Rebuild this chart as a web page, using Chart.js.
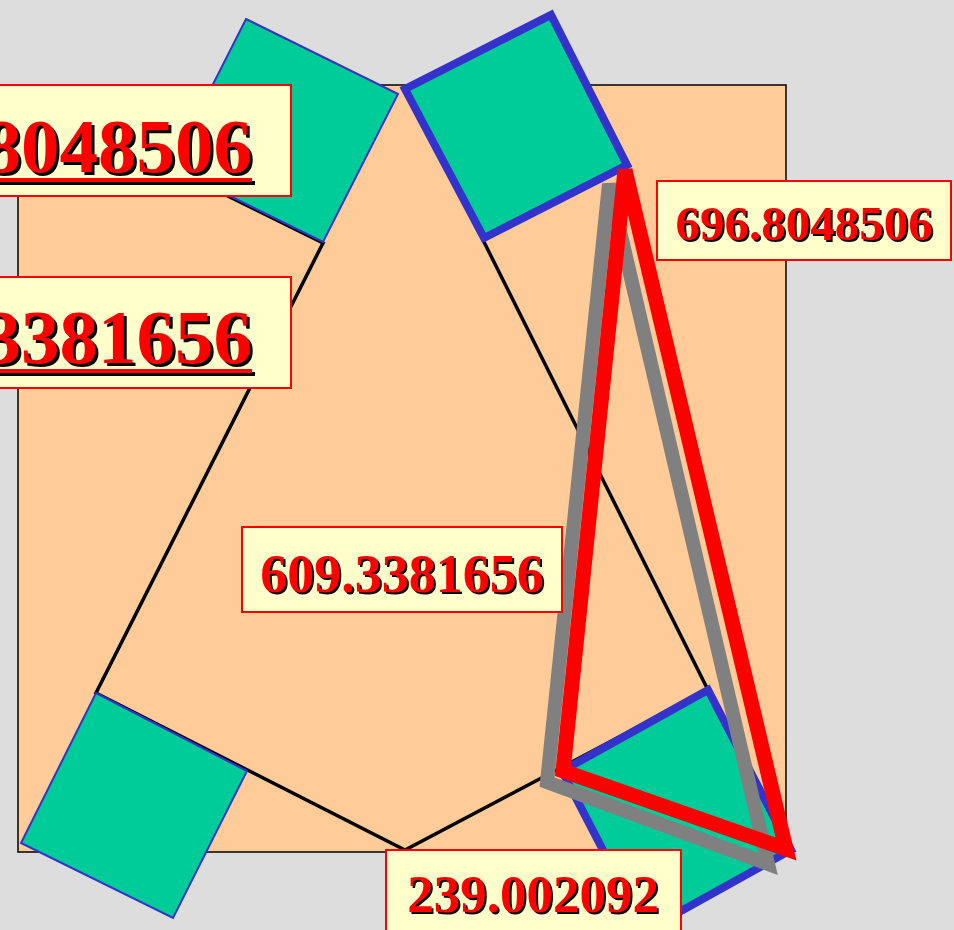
<!DOCTYPE html>
<html>
<head>
<meta charset="utf-8">
<script src="https://cdn.jsdelivr.net/npm/chart.js@4.4.1/dist/chart.umd.min.js"></script>
<style>
html, body { margin: 0; padding: 0; background: #dddddd; overflow: hidden; }
#wrap { width: 954px; height: 930px; }
</style>
</head>
<body>
<div id="wrap"><canvas id="figure" width="954" height="930"></canvas></div>
<script>
// corner points of every shape, in figure units (x to the right, y downwards)
const frameRect = [[18, 85], [786, 85], [786, 852], [18, 852]];
const outlinePath = [[171, 168], [323, 243], [96, 693], [405, 850], [708, 690], [483, 240]];
const squareTopLeft = [[246, 19], [398, 94], [323, 242], [171, 167]];
const squareTopRight = [[405, 89], [551, 15], [627, 165], [484, 238]];
const squareBottomLeft = [[96, 693], [247, 771], [173, 918], [21, 843]];
const squareBottomRight = [[708, 690], [562, 771], [645, 931], [791, 850]];
const triangleGray = [[609, 184], [547, 782], [768, 864]];
const triangleRed = [[625, 170], [563, 771], [786, 849]];

// texts of the five value boxes
const labelTexts = ['696.8048506', '609.3381656', '609.3381656', '696.8048506', '239.002092'];

// where each box sits (figure units) and how its text is set
const labelBoxes = [
    { x0: -210, y0: 85, x1: 291, y1: 196, size: 77, align: 'right', tx: 252, ty: 172, underline: true, off: 3 },
    { x0: -210, y0: 277, x1: 291, y1: 388, size: 77, align: 'right', tx: 252, ty: 363, underline: true, off: 3 },
    { x0: 242, y0: 527, x1: 562, y1: 612, size: 54, align: 'center', tx: 402, ty: 592, underline: false, off: 2 },
    { x0: 657, y0: 181, x1: 951, y1: 260, size: 49, align: 'center', tx: 804, ty: 240, underline: false, off: 2 },
    { x0: 386, y0: 850, x1: 681, y1: 950, size: 53, align: 'center', tx: 533, ty: 912, underline: false, off: 2 }
];

const GREEN = '#00cc99';
const BLUE = '#3333cc';

// ring of points; repeating the first ones gives a clean joined corner
function ring(pts, repeat) {
    return pts.concat(pts.slice(0, repeat)).map(([x, y]) => ({ x, y }));
}

function shape(pts, opts) {
    return Object.assign({
        data: ring(pts, 2),
        showLine: true,
        pointRadius: 0,
        pointHoverRadius: 0,
        tension: 0,
        fill: false,
        borderJoinStyle: 'miter',
        borderCapStyle: 'butt'
    }, opts);
}

const bgPlugin = {
    id: 'bg',
    beforeDraw(chart) {
        const c = chart.ctx;
        c.save();
        c.fillStyle = '#dddddd';
        c.fillRect(0, 0, chart.width, chart.height);
        c.restore();
    },
    // sharp corners get cut flat, like the original
    beforeDatasetsDraw(chart) {
        chart.ctx.miterLimit = 3;
    }
};

// yellow value boxes, drawn on top of everything
const labelPlugin = {
    id: 'valueBoxes',
    afterDraw(chart) {
        const c = chart.ctx;
        const xs = chart.scales.x, ys = chart.scales.y;
        labelBoxes.forEach((b, i) => {
            const x0 = xs.getPixelForValue(b.x0), x1 = xs.getPixelForValue(b.x1);
            const y0 = ys.getPixelForValue(b.y0), y1 = ys.getPixelForValue(b.y1);
            c.save();
            c.fillStyle = '#ffffcc';
            c.fillRect(x0, y0, x1 - x0, y1 - y0);
            c.strokeStyle = '#ff0000';
            c.lineWidth = 2;
            c.strokeRect(x0, y0, x1 - x0, y1 - y0);

            const tx = xs.getPixelForValue(b.tx), ty = ys.getPixelForValue(b.ty);
            c.font = 'bold ' + b.size + 'px "Liberation Serif", "Times New Roman", serif';
            c.textAlign = b.align;
            c.textBaseline = 'alphabetic';
            const w = c.measureText(labelTexts[i]).width;
            const left = b.align === 'right' ? tx - w : tx - w / 2;

            c.fillStyle = '#000000';
            c.fillText(labelTexts[i], tx + b.off, ty + b.off);
            if (b.underline) c.fillRect(left + b.off, ty + 6 + b.off, w, 4);
            c.fillStyle = '#ff0000';
            c.fillText(labelTexts[i], tx, ty);
            if (b.underline) c.fillRect(left, ty + 6, w, 4);
            c.restore();
        });
    }
};

new Chart(document.getElementById('figure'), {
    type: 'scatter',
    data: {
        datasets: [
            shape(frameRect, { fill: 'shape', backgroundColor: '#ffcc99', borderColor: '#000000', borderWidth: 1.5, order: 10 }),
            shape(outlinePath, { data: ring(outlinePath, 0), borderColor: '#000000', borderWidth: 3.5, order: 9 }),
            shape(squareTopLeft, { fill: 'shape', backgroundColor: GREEN, borderColor: BLUE, borderWidth: 2, order: 8 }),
            shape(squareTopRight, { fill: 'shape', backgroundColor: GREEN, borderColor: BLUE, borderWidth: 8, order: 7 }),
            shape(squareBottomLeft, { fill: 'shape', backgroundColor: GREEN, borderColor: BLUE, borderWidth: 2, order: 6 }),
            shape(squareBottomRight, { fill: 'shape', backgroundColor: GREEN, borderColor: BLUE, borderWidth: 8, order: 5 }),
            shape(triangleGray, { borderColor: '#808080', borderWidth: 14, order: 4 }),
            shape(triangleRed, { borderColor: '#ff0000', borderWidth: 15, order: 3 })
        ]
    },
    options: {
        responsive: false,
        animation: false,
        events: [],
        layout: { padding: 0 },
        plugins: {
            legend: { display: false },
            tooltip: { enabled: false }
        },
        scales: {
            x: { type: 'linear', min: 0, max: 954, display: false },
            y: { type: 'linear', min: 0, max: 930, reverse: true, display: false }
        }
    },
    plugins: [bgPlugin, labelPlugin]
});
</script>
</body>
</html>
